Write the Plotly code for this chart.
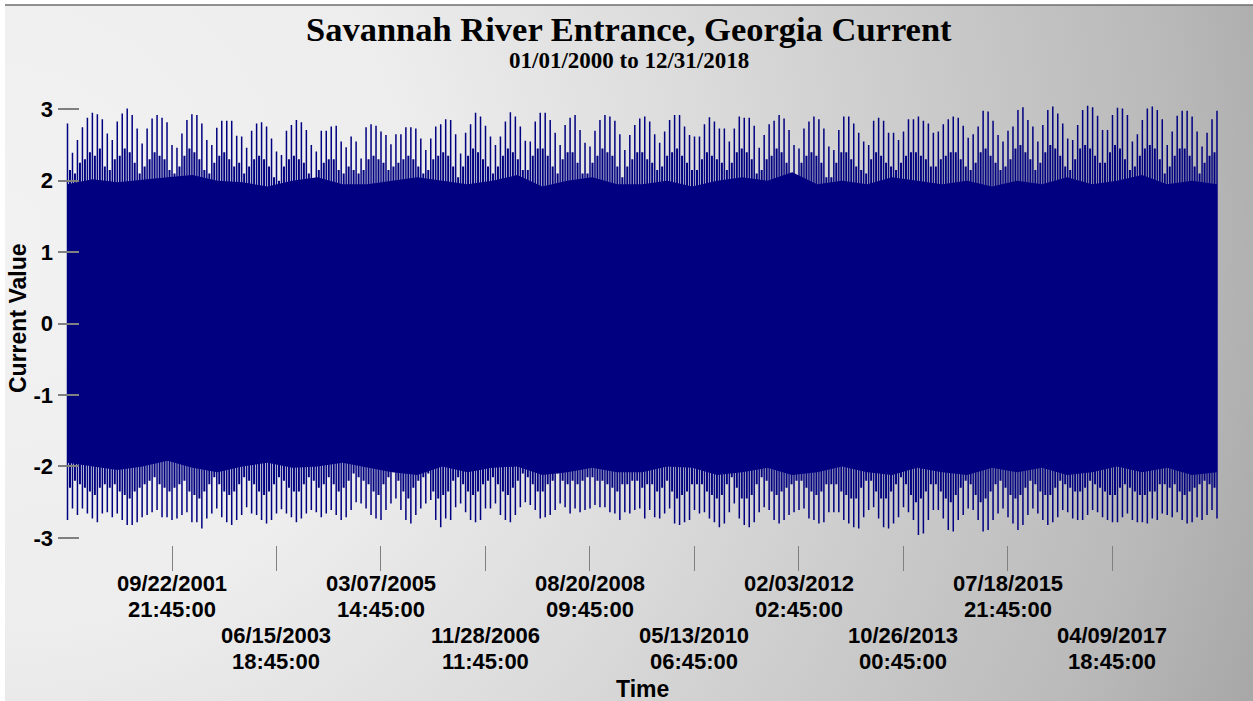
import base64
import pandas as pd
import plotly.graph_objects as go

# ---- data -------------------------------------------------------------
TITLE = "Savannah River Entrance, Georgia Current"
START = "01/01/2000"
END = "12/31/2018"

# flood (positive) current peaks, in time order
flood_peak = [
    2.80, 2.39, 2.57, 2.75, 2.88, 2.95, 2.93, 2.86, 2.66, 2.57,
    2.83, 2.94, 3.01, 2.92, 2.73, 2.52, 2.73, 2.87, 2.92, 2.88,
    2.82, 2.50, 2.46, 2.66, 2.85, 2.93, 2.92, 2.80, 2.57, 2.50,
    2.74, 2.84, 2.84, 2.84, 2.63, 2.62, 2.46, 2.70, 2.80, 2.82,
    2.76, 2.59, 2.41, 2.36, 2.70, 2.78, 2.85, 2.82, 2.71, 2.50,
    2.41, 2.70, 2.70, 2.76, 2.77, 2.55, 2.47, 2.62, 2.55,
    2.31, 2.75, 2.79, 2.77, 2.69, 2.64, 2.51, 2.65, 2.65, 2.75,
    2.75, 2.73, 2.59, 2.43, 2.59, 2.76, 2.79, 2.86, 2.85, 2.65,
    2.38, 2.67, 2.79, 2.95, 2.90, 2.77, 2.62, 2.50, 2.62, 2.83,
    2.96, 2.90, 2.76, 2.56, 2.55, 2.83, 2.95, 2.95, 2.85, 2.67,
    2.50, 2.78, 2.88, 2.92, 2.71, 2.53, 2.48, 2.70, 2.85, 2.92,
    2.90, 2.84, 2.65, 2.43, 2.64, 2.78, 2.87, 2.90,
    2.83, 2.65, 2.53, 2.69, 2.85, 2.92, 2.92, 2.76, 2.64, 2.62,
    2.62, 2.79, 2.89, 2.83, 2.73, 2.73, 2.55, 2.73, 2.90, 2.88,
    2.88, 2.77, 2.46, 2.64, 2.79, 2.84, 2.92, 2.87, 2.71, 2.50,
    2.45, 2.73, 2.83, 2.90, 2.86, 2.73, 2.48, 2.43, 2.71, 2.90,
    2.90, 2.80, 2.67, 2.55, 2.50, 2.84, 2.88, 2.84, 2.67, 2.67,
    2.57, 2.69, 2.86, 2.86, 2.90, 2.84, 2.80, 2.67,
    2.69, 2.79, 2.86, 2.90, 2.88, 2.77, 2.60, 2.65, 2.76, 2.98,
    2.97, 2.84, 2.64, 2.55, 2.70, 2.76, 2.99, 3.03, 2.85, 2.76,
    2.55, 2.78, 2.99, 3.04, 2.94, 2.80, 2.59, 2.57, 2.78, 2.99,
    3.05, 3.03, 2.91, 2.71, 2.71, 2.92, 3.02, 3.01, 2.92, 2.55,
    2.65, 2.85, 3.01, 3.04, 2.99, 2.86, 2.50, 2.69, 2.91, 2.98,
    2.98, 2.90, 2.69, 2.48, 2.67, 2.86, 2.98,
]

# ebb (negative) current peaks, same instants
ebb_peak = [
    -2.75, -2.59, -2.68, -2.59, -2.66, -2.73, -2.78, -2.66, -2.64, -2.71,
    -2.66, -2.75, -2.82, -2.82, -2.78, -2.71, -2.68, -2.64, -2.61, -2.71,
    -2.71, -2.75, -2.73, -2.68, -2.64, -2.78, -2.78, -2.87, -2.73, -2.66,
    -2.59, -2.71, -2.78, -2.82, -2.75, -2.68, -2.57, -2.66, -2.68, -2.75,
    -2.80, -2.75, -2.66, -2.60, -2.66, -2.71, -2.78, -2.73, -2.66, -2.61,
    -2.64, -2.71, -2.66, -2.61, -2.68, -2.75, -2.71, -2.61, -2.50,
    -2.52, -2.59, -2.68, -2.73, -2.75, -2.61, -2.52, -2.45, -2.61, -2.75,
    -2.80, -2.68, -2.59, -2.52, -2.47, -2.75, -2.85, -2.73, -2.75, -2.57,
    -2.52, -2.64, -2.75, -2.78, -2.75, -2.59, -2.59, -2.52, -2.68, -2.75,
    -2.78, -2.68, -2.57, -2.50, -2.54, -2.61, -2.73, -2.71, -2.68, -2.61,
    -2.52, -2.57, -2.66, -2.59, -2.64, -2.61, -2.59, -2.54, -2.57, -2.57,
    -2.64, -2.66, -2.75, -2.64, -2.66, -2.61, -2.59, -2.73,
    -2.61, -2.71, -2.73, -2.66, -2.59, -2.80, -2.82, -2.78, -2.75, -2.61,
    -2.66, -2.64, -2.73, -2.78, -2.85, -2.80, -2.64, -2.52, -2.73, -2.82,
    -2.85, -2.78, -2.64, -2.57, -2.61, -2.75, -2.80, -2.75, -2.68, -2.64,
    -2.61, -2.59, -2.73, -2.75, -2.80, -2.78, -2.64, -2.64, -2.64, -2.75,
    -2.80, -2.85, -2.87, -2.71, -2.61, -2.57, -2.73, -2.85, -2.87, -2.80,
    -2.71, -2.57, -2.64, -2.75, -2.96, -2.94, -2.75, -2.61,
    -2.61, -2.73, -2.89, -2.91, -2.75, -2.68, -2.59, -2.61, -2.75, -2.91,
    -2.89, -2.75, -2.66, -2.59, -2.71, -2.80, -2.89, -2.82, -2.68, -2.59,
    -2.66, -2.75, -2.82, -2.78, -2.71, -2.61, -2.64, -2.73, -2.75, -2.75,
    -2.68, -2.61, -2.64, -2.71, -2.75, -2.78, -2.78, -2.71, -2.66, -2.75,
    -2.78, -2.78, -2.80, -2.73, -2.75, -2.66, -2.68, -2.71, -2.64, -2.75,
    -2.80, -2.78, -2.71, -2.75, -2.68, -2.61, -2.73,
]

# secondary (weaker) tide of each pair, between consecutive peaks
flood_mid = [
    2.15, 2.10, 2.25, 2.30, 2.40, 2.35, 2.45, 2.20, 2.15, 2.30,
    2.35, 2.45, 2.40, 2.25, 2.10, 2.20, 2.30, 2.40, 2.35, 2.30,
    2.15, 2.10, 2.20, 2.35, 2.45, 2.40, 2.30, 2.15, 2.10, 2.25,
    2.35, 2.40, 2.30, 2.20, 2.25, 2.10, 2.20, 2.30, 2.35, 2.30,
    2.20, 2.05, 2.00, 2.20, 2.30, 2.35, 2.30, 2.25, 2.10, 2.00,
    2.15, 2.25, 2.30, 2.30, 2.15, 2.10, 2.20, 2.15, 2.10,
    2.15, 2.30, 2.35, 2.30, 2.25, 2.15, 2.20, 2.25, 2.30, 2.35,
    2.30, 2.20, 2.10, 2.15, 2.30, 2.35, 2.40, 2.35, 2.20, 2.05,
    2.20, 2.35, 2.45, 2.40, 2.30, 2.20, 2.10, 2.20, 2.35, 2.45,
    2.40, 2.30, 2.15, 2.15, 2.35, 2.45, 2.45, 2.35, 2.20, 2.10,
    2.30, 2.40, 2.40, 2.25, 2.10, 2.10, 2.25, 2.35, 2.45, 2.40,
    2.35, 2.20, 2.05, 2.20, 2.30, 2.40, 2.40, 2.30,
    2.25, 2.15, 2.20, 2.35, 2.40, 2.45, 2.35, 2.25, 2.15, 2.15,
    2.30, 2.40, 2.35, 2.30, 2.25, 2.15, 2.25, 2.40, 2.45, 2.40,
    2.30, 2.10, 2.15, 2.30, 2.35, 2.45, 2.40, 2.25, 2.10, 2.05,
    2.25, 2.35, 2.40, 2.35, 2.25, 2.05, 2.05, 2.25, 2.40, 2.40,
    2.30, 2.20, 2.15, 2.10, 2.30, 2.40, 2.35, 2.25, 2.20, 2.15,
    2.25, 2.35, 2.40, 2.40, 2.35, 2.30, 2.20, 2.20,
    2.30, 2.35, 2.40, 2.40, 2.30, 2.20, 2.15, 2.25, 2.40, 2.45,
    2.35, 2.25, 2.15, 2.20, 2.30, 2.45, 2.50, 2.40, 2.30, 2.15,
    2.25, 2.40, 2.50, 2.45, 2.35, 2.20, 2.15, 2.30, 2.45, 2.50,
    2.45, 2.35, 2.25, 2.25, 2.40, 2.50, 2.45, 2.30, 2.15, 2.20,
    2.35, 2.45, 2.50, 2.45, 2.30, 2.10, 2.20, 2.35, 2.45, 2.45,
    2.35, 2.20, 2.10, 2.25, 2.35, 2.40,
]
ebb_mid = [
    -2.30, -2.20, -2.25, -2.30, -2.35, -2.40, -2.30, -2.25, -2.30, -2.25,
    -2.35, -2.40, -2.45, -2.35, -2.30, -2.25, -2.20, -2.15, -2.25, -2.30,
    -2.35, -2.30, -2.25, -2.20, -2.35, -2.40, -2.45, -2.35, -2.25, -2.15,
    -2.25, -2.35, -2.40, -2.35, -2.25, -2.15, -2.20, -2.25, -2.35, -2.40,
    -2.35, -2.25, -2.15, -2.20, -2.30, -2.35, -2.35, -2.25, -2.15, -2.20,
    -2.30, -2.25, -2.15, -2.25, -2.35, -2.30, -2.20, -2.10, -2.15,
    -2.20, -2.25, -2.35, -2.40, -2.25, -2.15, -2.05, -2.20, -2.35, -2.45,
    -2.30, -2.20, -2.15, -2.10, -2.35, -2.45, -2.40, -2.35, -2.20, -2.15,
    -2.25, -2.35, -2.40, -2.35, -2.25, -2.20, -2.15, -2.25, -2.35, -2.40,
    -2.30, -2.20, -2.10, -2.15, -2.25, -2.35, -2.35, -2.25, -2.20, -2.10,
    -2.20, -2.25, -2.20, -2.25, -2.20, -2.15, -2.15, -2.20, -2.20, -2.25,
    -2.30, -2.35, -2.25, -2.25, -2.20, -2.20, -2.30, -2.25,
    -2.25, -2.35, -2.30, -2.20, -2.35, -2.45, -2.40, -2.35, -2.25, -2.25,
    -2.25, -2.35, -2.40, -2.45, -2.40, -2.25, -2.15, -2.30, -2.45, -2.45,
    -2.40, -2.25, -2.15, -2.20, -2.35, -2.40, -2.35, -2.30, -2.25, -2.20,
    -2.20, -2.30, -2.35, -2.40, -2.35, -2.25, -2.25, -2.25, -2.35, -2.40,
    -2.45, -2.45, -2.30, -2.20, -2.20, -2.35, -2.45, -2.45, -2.35, -2.25,
    -2.15, -2.25, -2.40, -2.50, -2.45, -2.35, -2.25, -2.25,
    -2.35, -2.45, -2.50, -2.40, -2.30, -2.20, -2.25, -2.40, -2.50, -2.45,
    -2.35, -2.25, -2.20, -2.30, -2.40, -2.45, -2.40, -2.30, -2.20, -2.25,
    -2.35, -2.40, -2.40, -2.30, -2.20, -2.25, -2.30, -2.35, -2.35, -2.30,
    -2.20, -2.25, -2.30, -2.35, -2.40, -2.40, -2.30, -2.25, -2.30, -2.35,
    -2.40, -2.40, -2.35, -2.35, -2.25, -2.25, -2.30, -2.25, -2.35, -2.40,
    -2.35, -2.30, -2.25, -2.20, -2.25, -2.30,
]

# level that the weakest tides still reach on both sides
flood_typical = [
    1.95, 2.02, 1.98, 2.02, 2.05, 2.08, 2.00, 1.98, 1.92, 2.00, 2.05, 1.95,
    1.95, 2.00, 2.05, 2.00, 1.95, 2.00, 2.08, 1.92, 2.00, 2.05, 1.95,
    1.95, 2.00, 1.92, 2.00, 2.05, 2.00, 2.12, 1.95, 2.00, 1.95, 2.05, 2.00,
    1.95, 2.00, 1.92, 2.00, 1.95, 2.05, 1.95, 2.00, 2.08, 1.95, 2.00, 1.95,
]
ebb_typical = [
    -1.95, -2.00, -2.05, -2.00, -1.92, -2.02, -2.08, -2.00, -1.95, -2.02, -2.00, -1.95,
    -2.02, -2.08, -2.12, -2.00, -2.08, -2.02, -2.00, -2.12, -2.08, -2.02, -2.08,
    -2.08, -2.00, -2.02, -2.12, -2.08, -2.02, -2.12, -2.08, -2.00, -2.08, -2.12, -2.02,
    -2.08, -2.12, -2.02, -2.08, -2.02, -2.12, -2.08, -2.00, -2.08, -2.02, -2.12, -2.08,
]

# date tick labels along the time axis
tick_labels = [
    "09/22/2001 21:45:00", "06/15/2003 18:45:00", "03/07/2005 14:45:00",
    "11/28/2006 11:45:00", "08/20/2008 09:45:00", "05/13/2010 06:45:00",
    "02/03/2012 02:45:00", "10/26/2013 00:45:00", "07/18/2015 21:45:00",
    "04/09/2017 18:45:00",
]
y_ticks = [-3, -2, -1, 0, 1, 2, 3]

# ---- layout geometry (pixels) ----------------------------------------
W, H = 1253, 701
ML, MR, MT, MB = 58, 28, 95, 156
PW, PH = W - ML - MR, H - MT - MB
DATA_X0, DATA_X1 = 67.5, 1217.0  # where the record starts / ends on screen
NAVY = "#000080"
SANS = "Liberation Sans"
SERIF = "Liberation Serif"

t0 = pd.to_datetime(START, format="%m/%d/%Y")
t1 = pd.to_datetime(END, format="%m/%d/%Y") + pd.Timedelta(hours=23, minutes=45)
span = t1 - t0
per_px = span / (DATA_X1 - DATA_X0)
x_lo = t0 - per_px * (DATA_X0 - ML)
x_hi = t1 + per_px * (W - MR - DATA_X1)

t_peak = pd.date_range(t0, t1, periods=len(flood_peak))
t_mid = t_peak[:-1] + (t_peak[1:] - t_peak[:-1]) / 2
t_typ = pd.date_range(t0, t1, periods=len(flood_typical))

tick_times = pd.to_datetime(tick_labels, format="%m/%d/%Y %H:%M:%S")


def strokes(times, lows, highs):
    xs, ys = [], []
    for t, lo, hi in zip(times, lows, highs):
        xs += [t, t, None]
        ys += [lo, hi, None]
    return xs, ys


fig = go.Figure()

# solid body of the record
fig.add_trace(go.Scatter(x=t_typ, y=ebb_typical, mode="lines",
                         line=dict(width=0, color=NAVY), hoverinfo="skip",
                         showlegend=False))
fig.add_trace(go.Scatter(x=t_typ, y=flood_typical, mode="lines",
                         line=dict(width=0, color=NAVY), fill="tonexty",
                         fillcolor=NAVY, hoverinfo="skip", showlegend=False))

# weaker tide of each pair
mx, my = strokes(t_mid, ebb_mid, flood_mid)
fig.add_trace(go.Scatter(x=mx, y=my, mode="lines",
                         line=dict(width=2.0, color=NAVY),
                         showlegend=False, hoverinfo="skip"))

# stronger tide of each pair
px_, py_ = strokes(t_peak, ebb_peak, flood_peak)
fig.add_trace(go.Scatter(x=px_, y=py_, mode="lines",
                         line=dict(width=1.5, color=NAVY),
                         showlegend=False, hoverinfo="skip"))


def px_x(p):
    return (p - ML) / PW


def px_y(p):
    return (H - MB - p) / PH


# grey gradient backdrop
svg = (
    "<svg xmlns='http://www.w3.org/2000/svg' width='1248' height='696' "
    "preserveAspectRatio='none'><defs>"
    "<radialGradient id='g' gradientUnits='userSpaceOnUse' cx='0' cy='220' r='1380'>"
    "<stop offset='0' stop-color='#f2f2f2'/>"
    "<stop offset='0.3' stop-color='#ededed'/>"
    "<stop offset='0.5' stop-color='#dcdcdc'/>"
    "<stop offset='0.85' stop-color='#b9b9b9'/>"
    "<stop offset='1' stop-color='#a2a2a2'/>"
    "</radialGradient></defs>"
    "<rect width='1248' height='696' fill='url(#g)'/></svg>"
)
bg_src = "data:image/svg+xml;base64," + base64.b64encode(svg.encode()).decode()


def label(text, x, y, size, family=SANS, xref="paper", angle=0):
    return dict(text=f"<b>{text}</b>", x=x, y=px_y(y), xref=xref, yref="paper",
                xanchor="center", yanchor="middle", textangle=angle,
                showarrow=False, font=dict(family=family, size=size, color="#000"))


annotations = [
    label(TITLE, px_x(629), 29, 34.5, SERIF),
    label(f"{START} to {END}", px_x(629), 60, 23, SERIF),
    label("Current Value", px_x(18), 318, 23, angle=-90),
    label("Time", px_x(642), 689, 23),
]
for i, (tt, lab) in enumerate(zip(tick_times, tick_labels)):
    date_s, time_s = lab.split(" ")
    row = 583 if i % 2 == 0 else 635
    annotations.append(label(date_s, tt, row, 22, xref="x"))
    annotations.append(label(time_s, tt, row + 26, 22, xref="x"))

fig.update_layout(
    width=W, height=H,
    margin=dict(l=ML, r=MR, t=MT, b=MB),
    paper_bgcolor="rgba(0,0,0,0)", plot_bgcolor="rgba(0,0,0,0)",
    images=[dict(source=bg_src, xref="paper", yref="paper",
                 x=px_x(5), y=px_y(5), sizex=(W - 5) / PW, sizey=(H - 5) / PH,
                 xanchor="left", yanchor="top", sizing="stretch", layer="below")],
    shapes=[dict(type="line", xref="paper", yref="paper",
                 x0=px_x(5), x1=px_x(W), y0=px_y(5), y1=px_y(5),
                 line=dict(color="#6e6e6e", width=1.5))],
    annotations=annotations,
    xaxis=dict(type="date", range=[x_lo, x_hi], tickvals=tick_times,
               showticklabels=False, ticks="outside", ticklen=25,
               tickcolor="#808080", tickwidth=1, showgrid=False,
               zeroline=False, showline=False, fixedrange=True),
    yaxis=dict(range=[-3.1, 3.2], tickvals=y_ticks,
               ticktext=[str(v) for v in y_ticks],
               ticks="inside", ticklen=21,
               tickcolor="#808080", tickwidth=1.5, showgrid=False,
               zeroline=False, showline=False, ticklabelstandoff=4,
               tickfont=dict(family=SANS, size=22, color="#000", weight="bold")),
    showlegend=False,
)

fig.write_html("out.html")
